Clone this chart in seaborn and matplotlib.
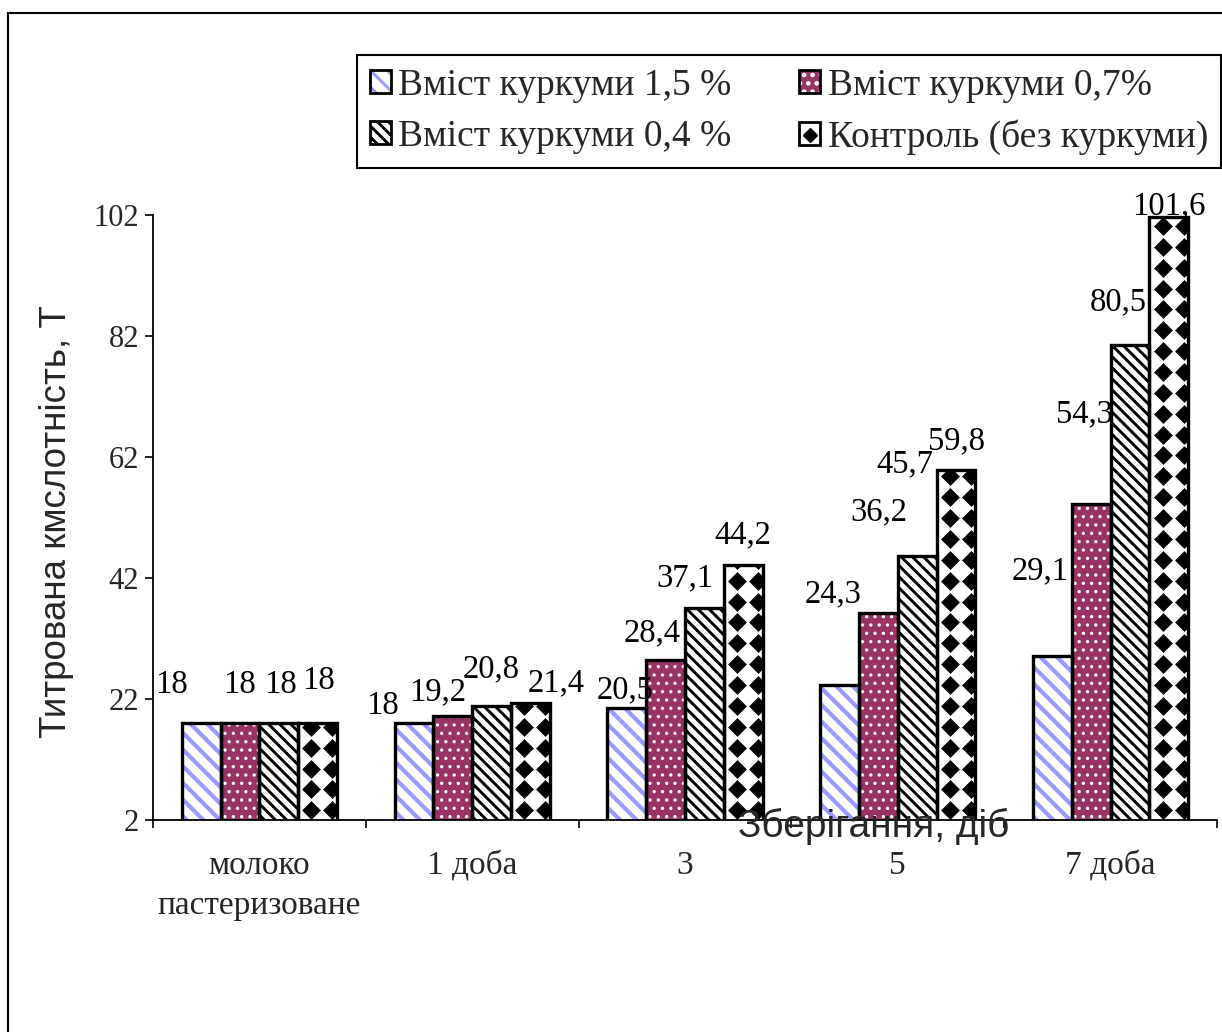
import numpy as np
import pandas as pd
import matplotlib
matplotlib.use("Agg")
import matplotlib.pyplot as plt
from matplotlib.patches import Patch, Rectangle
from matplotlib.lines import Line2D
import seaborn as sns

# ---- data -------------------------------------------------------------
categories = ["молоко\nпастеризоване", "1 доба", "3", "5", "7 доба"]
series = ["Вміст куркуми 1,5 %", "Вміст куркуми 0,7%",
          "Вміст куркуми 0,4 %", "Контроль (без куркуми)"]
turmeric_15 = [18, 18, 20.5, 24.3, 29.1]
turmeric_07 = [18, 19.2, 28.4, 36.2, 54.3]
turmeric_04 = [18, 20.8, 37.1, 45.7, 80.5]
control = [18, 21.4, 44.2, 59.8, 101.6]
y_ticks = [2, 22, 42, 62, 82, 102]

# ---- styling ----------------------------------------------------------
fills = ["white", "#993366", "white", "white"]
hatch_colors = ["#9999FF", "white", "black", None]
hatches = ["\\\\", "..", "\\\\\\", None]
hatch_widths = [3.0, 1.2, 2.1, 1.0]
# label offsets from the bar top (pixels: dx, dy)
label_shift = [
    [(-30, 38), (-31, 17), (-2, 18), (-6, 91), (-12, 85)],
    [(0, 38), (-15, 24), (-13, 27), (0, 101), (-7, 90)],
    [(2, 38), (0, 37), (-19, 30), (-12, 92), (-12, 43)],
    [(1, 42), (26, 20), (0, 30), (0, 29), (0, 11)],
]

SERIF = "Liberation Serif"
SANS = "Liberation Sans"

sns.set_theme(style="white")
plt.rcParams["font.family"] = [SERIF, "DejaVu Sans"]

df = pd.DataFrame({
    "cat": categories * 4,
    "series": np.repeat(series, len(categories)),
    "value": turmeric_15 + turmeric_07 + turmeric_04 + control,
})

W, H = 1222, 1032
fig = plt.figure(figsize=(W / 100, H / 100), dpi=100)
ax = fig.add_axes([153 / W, 212 / H, (1217 - 153) / W, (820 - 215) / H])

sns.barplot(data=df, x="cat", y="value", hue="series", order=categories,
            hue_order=series, width=0.73, gap=0, saturation=1,
            legend=False, errorbar=None, ax=ax)

ax.set_ylim(2, 102)
ax.set_xlim(-0.5, len(categories) - 0.5)

for si, cont in enumerate(ax.containers):
    for ci, bar in enumerate(cont):
        bar.set_facecolor(fills[si])
        bar.set_linewidth(0)
        if hatches[si]:
            plt.rcParams["hatch.linewidth"] = hatch_widths[si]
            bar.set_edgecolor(hatch_colors[si])
            bar.set_hatch(hatches[si])
            if hasattr(bar, "set_hatch_linewidth"):
                bar.set_hatch_linewidth(hatch_widths[si])
        else:
            bar.set_edgecolor("white")
        x, w, h = bar.get_x(), bar.get_width(), bar.get_height()
        outline = Rectangle((x, 0), w, h, fill=False, ec="black", lw=2.4,
                            zorder=3)
        ax.add_patch(outline)
        if si == 3:
            # diamond fill pattern for the control bars
            step_x = 0.099
            step_y = 3.45
            xs = np.arange(x + 0.062, x + w + step_x, step_x)
            ys = np.arange(2 + 1.6, h + step_y, step_y)
            gx, gy = np.meshgrid(xs, ys)
            sc = ax.scatter(gx.ravel(), gy.ravel(), marker="D", s=92,
                            c="black", linewidths=0, zorder=2)
            sc.set_clip_path(bar)
        dx, dy = label_shift[si][ci]
        txt = f"{h:g}".replace(".", ",")
        ax.annotate(txt, (x + w / 2, h), xytext=(dx, dy),
                    textcoords="offset pixels", ha="center", va="center",
                    fontsize=23.5, family=SERIF, color="black",
                    annotation_clip=False, zorder=5)

# axes decoration
sns.despine(ax=ax)
for side in ("left", "bottom"):
    ax.spines[side].set_color("black")
    ax.spines[side].set_linewidth(1.3)
ax.set_yticks(y_ticks)
ax.set_yticklabels([str(t) for t in y_ticks], fontsize=22, family=SERIF)
ax.tick_params(axis="y", direction="out", length=6, width=1.2,
               color="black", pad=4, left=True)
ax.set_xticks(np.arange(-0.5, len(categories)), labels=[""] * (len(categories) + 1))
ax.set_xticks(range(len(categories)), labels=categories, minor=True)
ax.tick_params(axis="x", which="major", direction="out", length=6,
               width=1.2, color="black", bottom=True)
ax.tick_params(axis="x", which="minor", length=0, pad=22)
for lbl in ax.get_xticklabels(minor=True):
    lbl.set_fontsize(24)
    lbl.set_family(SERIF)
    lbl.set_linespacing(1.4)
ax.set_xlabel("")
ax.set_ylabel("")

fig.text(57 / W, 1 - 522 / H, "Титрована кмслотність, Т", rotation=90,
         ha="center", va="center", fontsize=26.5, family=SANS)
fig.text(874 / W, 1 - 826 / H, "Зберігання, діб", ha="center", va="center",
         fontsize=28, family=SANS, zorder=10)

# legend
def outline_patch():
    return Patch(fill=False, ec="black", lw=2)

handles = [
    (Patch(fc=fills[0], ec=hatch_colors[0], hatch=hatches[0], lw=0), outline_patch()),
    (Patch(fc=fills[1], ec=hatch_colors[1], hatch=hatches[1], lw=0), outline_patch()),
    (Patch(fc=fills[2], ec=hatch_colors[2], hatch=hatches[2], lw=0), outline_patch()),
    (Patch(fc="white", ec="black", lw=2),
     Line2D([], [], marker="D", color="black", ls="", ms=7)),
]
order = [0, 2, 1, 3]
leg = fig.legend([handles[i] for i in order], [series[i] for i in order],
                 ncol=2, loc="upper right",
                 bbox_to_anchor=(1221 / W, 1 - 55 / H),
                 bbox_transform=fig.transFigure, frameon=True,
                 fancybox=False, edgecolor="black", framealpha=1,
                 prop={"family": SERIF, "size": 27},
                 handlelength=0.55, handleheight=0.55, handletextpad=0.2,
                 columnspacing=1.8, borderpad=0.35, labelspacing=0.45,
                 borderaxespad=0)
leg.get_frame().set_linewidth(1.5)

# outer frame
fig.add_artist(Rectangle((8 / W, -0.1), 1.2, 1 - 13 / H + 0.1,
                         transform=fig.transFigure, fill=False,
                         ec="black", lw=1.5))

fig.savefig("out.png", dpi=100, facecolor="white")
